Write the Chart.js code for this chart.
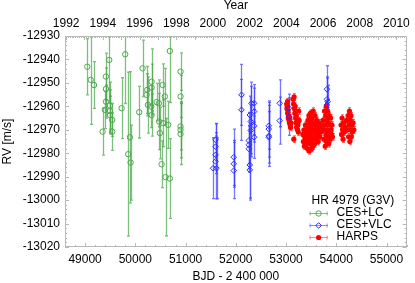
<!DOCTYPE html>
<html>
<head>
<meta charset="utf-8">
<script src="https://cdn.jsdelivr.net/npm/chart.js@4.4.0/dist/chart.umd.min.js"></script>
<style>
  html, body { margin: 0; padding: 0; background: #fff; }
</style>
</head>
<body>
<canvas id="rvChart" width="415" height="283"></canvas>
<script>
// axis ranges and tick labels
const bjdMin = 48600, bjdMax = 55400;
const bjdTicks = [49000, 50000, 51000, 52000, 53000, 54000, 55000];
const yearTicks = [1992, 1994, 1996, 1998, 2000, 2002, 2004, 2006, 2008, 2010];
const rvTicks = [-13020, -13010, -13000, -12990, -12980, -12970, -12960, -12950, -12940, -12930];

const legendTitle = 'HR 4979 (G3V)';
const seriesNames = ['CES+LC', 'CES+VLC', 'HARPS'];

// CES + Long Camera
const lcBjd = [49043, 49111, 49177, 49481, 49415, 49415, 49415, 49495, 49395, 49495,
  49495, 49540, 49349, 49540, 49727, 49799, 49892, 50077, 50144, 50236,
  50224, 50324, 50324, 50316, 50250, 50423, 50469, 50324, 50475, 50542,
  50554, 50588, 50654, 50687, 50900, 50900, 50900, 50900, 50489, 49858,
  49906, 50522, 50602, 50687, 50900];
const lcRv = [-12943.1, -12948.7, -12950.9, -12940.2, -12947.3, -12952.6, -12958.0, -12959.7, -12961.5, -12962.0,
  -12963.7, -12965.8, -12970.8, -12970.8, -12960.8, -12937.8, -12973.2, -12962.5, -12943.8, -12953.0,
  -12955.1, -12949.5, -12952.0, -12960.1, -12959.4, -12958.2, -12958.7, -12963.7, -12966.5, -12950.9,
  -12967.2, -12955.8, -12967.9, -12936.4, -12945.2, -12955.8, -12968.6, -12970.0, -12971.4, -12980.4,
  -12984.0, -12984.7, -12990.2, -12990.8, -12971.8];
const lcErr = [12, 19, 10, 18, 10, 9, 7, 10, 8, 9,
  8, 7, 10, 8, 13, 21, 28, 11, 12, 10,
  9, 14, 10, 9, 12, 8, 10, 9, 12, 9,
  10, 12, 10, 22, 8, 9, 10, 12, 11, 35,
  16, 10, 25, 17, 13];

// CES + Very Long Camera
const vlcBjd = [51548, 51596, 51596, 51596, 51596, 51616, 51960, 51960, 51960, 52113,
  52113, 52258, 52258, 52258, 52278, 52298, 52312, 52365, 52365, 52365,
  52365, 52278, 52278, 52298, 52656, 52656, 52656, 52656, 52874, 52874,
  53060, 53060, 53814, 53814, 53830, 53814];
const vlcRv = [-12986.4, -12974.3, -12977.2, -12980.7, -12983.5, -12986.4, -12981.7, -12984.5, -12987.4, -12955.1,
  -12961.5, -12974.6, -12976.4, -12978.1, -12963.7, -12966.5, -12958.7, -12958.7, -12962.2, -12968.3,
  -12973.2, -12985.0, -12987.1, -12970.3, -12968.3, -12969.7, -12972.6, -12973.2, -12958.7, -12966.1,
  -12960.8, -12964.4, -12952.7, -12957.0, -12958.0, -12959.4];
const vlcErr = [13, 7, 6, 8, 16, 13, 12, 10, 12, 13,
  13, 12, 8, 10, 8, 15, 9, 8, 10, 7,
  9, 15, 12, 10, 10, 12, 13, 11, 10, 10,
  6, 8, 10, 9, 7, 12];

// HARPS
const harpsBjd = [
  53012, 53018, 53025, 53028, 53032, 53040, 53045, 53052, 53060, 53068, 53075, 53082, 53090, 53098,
  53140, 53150, 53155, 53160, 53168, 53175, 53182, 53190, 53198, 53205, 53212, 53220, 53228, 53236, 53245, 53252, 53260,
  53335, 53345, 53355, 53365, 53375, 53385, 53395, 53405, 53415, 53425, 53435, 53440, 53445, 53450, 53455, 53460, 53465,
  53470, 53475, 53480, 53485, 53490, 53495, 53500, 53505, 53510, 53515, 53520, 53525, 53530, 53535, 53540, 53548, 53555,
  53562, 53570, 53578, 53585, 53592, 53600, 53610, 53620, 53630, 53640, 53650, 53660, 53672, 53685, 53698, 53710,
  53735, 53745, 53755, 53765, 53772, 53780, 53788, 53795, 53802, 53808, 53815, 53822, 53828, 53835, 53842, 53850,
  53858, 53865, 53872, 53880, 53888, 53895, 53905, 53915, 53925,
  54095, 54105, 54115, 54125, 54135, 54145, 54160, 54175, 54205, 54220, 54235, 54245, 54255, 54262, 54270, 54278,
  54285, 54292, 54300, 54310, 54320, 54335, 54350];
const harpsRv = [
  -12959, -12961, -12960, -12958, -12963, -12962, -12965, -12964, -12966, -12967, -12965, -12968, -12969, -12967,
  -12957, -12959, -12974, -12956, -12961, -12963, -12960, -12965, -12967, -12964, -12969, -12966, -12970, -12968, -12971, -12962, -12966,
  -12972, -12975, -12970, -12977, -12973, -12968, -12976, -12971, -12974, -12978, -12966, -12969, -12972, -12975, -12964, -12979, -12967,
  -12970, -12973, -12976, -12963, -12966, -12969, -12972, -12975, -12978, -12965, -12968, -12971, -12974, -12977, -12962, -12967, -12970,
  -12973, -12976, -12964, -12968, -12971, -12974, -12966, -12969, -12972, -12975, -12967, -12970, -12973, -12968, -12971, -12969,
  -12966, -12970, -12974, -12962, -12968, -12977, -12964, -12972, -12960, -12975, -12966, -12970, -12962, -12973, -12967, -12976,
  -12964, -12971, -12968, -12974, -12965, -12970, -12972, -12968, -12973,
  -12968, -12972, -12965, -12970, -12974, -12967, -12971, -12969, -12966, -12970, -12964, -12973, -12968, -12962, -12975, -12966,
  -12970, -12964, -12973, -12968, -12971, -12967, -12970];
const harpsErr = 1.4; // typical HARPS uncertainty, same for every point

function yearOf(bjd) {
  return 2000 + (bjd - 51544.5) / 365.25;
}

function toPoints(xs, ys) {
  return xs.map((x, i) => ({ x: x, y: ys[i] }));
}

function steps(from, to, step) {
  const out = [];
  for (let v = Math.ceil(from / step - 1e-9) * step; v <= to + 1e-9; v += step) out.push(v);
  return out;
}

const FONT = '"Liberation Sans", Arial, Helvetica, sans-serif';
Chart.defaults.font.family = FONT;
Chart.defaults.font.size = 12;
Chart.defaults.color = '#000';

const green = 'rgb(76,168,76)';
const blue = 'rgb(40,40,255)';
const red = 'rgb(255,0,0)';

// error bars go under the markers
const errorBars = {
  id: 'errorBars',
  beforeDatasetsDraw(chart) {
    const { ctx, chartArea: a, scales: { x, y } } = chart;
    ctx.save();
    ctx.beginPath();
    ctx.rect(a.left, a.top, a.right - a.left, a.bottom - a.top);
    ctx.clip();
    for (let di = chart.data.datasets.length - 1; di >= 0; di--) {
      const ds = chart.data.datasets[di];
      ctx.strokeStyle = ds.errColor;
      ctx.lineWidth = ds.errWidth;
      ds.data.forEach((p, i) => {
        const e = Array.isArray(ds.errors) ? ds.errors[i] : ds.errors;
        const px = Math.round(x.getPixelForValue(p.x)) + 0.5;
        const top = y.getPixelForValue(p.y + e);
        const bot = y.getPixelForValue(p.y - e);
        ctx.beginPath();
        ctx.moveTo(px, top); ctx.lineTo(px, bot);
        ctx.moveTo(px - 1.5, top); ctx.lineTo(px + 1.5, top);
        ctx.moveTo(px - 1.5, bot); ctx.lineTo(px + 1.5, bot);
        ctx.stroke();
      });
    }
    ctx.restore();
  }
};

// grey frame with inward ticks on all four sides
const frame = {
  id: 'frame',
  afterDraw(chart) {
    const { ctx, chartArea: a, scales } = chart;
    const x = scales.x, x2 = scales.x2, y = scales.y;
    ctx.save();
    ctx.strokeStyle = '#b8b8b8';
    ctx.lineWidth = 1;
    ctx.beginPath();
    steps(bjdMin, bjdMax, 200).forEach(v => {
      const p = Math.round(x.getPixelForValue(v)) + 0.5;
      const len = v % 1000 === 0 ? 4 : 2;
      ctx.moveTo(p, a.bottom); ctx.lineTo(p, a.bottom - len);
    });
    steps(x2.min, x2.max, 0.1).forEach(v => {
      const p = Math.round(x2.getPixelForValue(v)) + 0.5;
      const len = Math.abs(v - Math.round(v)) < 1e-6 ? 4 : 2;
      ctx.moveTo(p, a.top); ctx.lineTo(p, a.top + len);
    });
    steps(y.min, y.max, 2).forEach(v => {
      const p = Math.round(y.getPixelForValue(v)) + 0.5;
      const len = v % 10 === 0 ? 4 : 2;
      ctx.moveTo(a.left, p); ctx.lineTo(a.left + len, p);
      ctx.moveTo(a.right, p); ctx.lineTo(a.right - len, p);
    });
    ctx.stroke();
    ctx.strokeRect(Math.round(a.left) + 0.5, Math.round(a.top) + 0.5,
      Math.round(a.right - a.left) - 1, Math.round(a.bottom - a.top) - 1);
    ctx.restore();
  }
};

// legend in the lower right corner: title and error bar samples
const rvLegend = {
  id: 'rvLegend',
  afterDraw(chart) {
    const { ctx, chartArea: a } = chart;
    const x0 = a.right - 97, x1 = a.right - 79, tx = a.right - 70;
    const rows = [a.bottom - 34, a.bottom - 22, a.bottom - 10];
    ctx.save();
    ctx.font = '12px ' + FONT;
    ctx.fillStyle = '#000';
    ctx.textBaseline = 'middle';
    ctx.textAlign = 'left';
    ctx.fillText(legendTitle, a.right - 95, a.bottom - 46);
    chart.data.datasets.forEach((ds, i) => {
      const yy = rows[i] + 0.5;
      const cx = (x0 + x1) / 2;
      ctx.strokeStyle = ds.legendLine;
      ctx.lineWidth = 1;
      ctx.beginPath();
      ctx.moveTo(x0, yy); ctx.lineTo(x1, yy);
      ctx.moveTo(x0 + 0.5, yy - 2); ctx.lineTo(x0 + 0.5, yy + 2);
      ctx.moveTo(x1 - 0.5, yy - 2); ctx.lineTo(x1 - 0.5, yy + 2);
      ctx.stroke();
      ctx.fillStyle = ds.pointBackgroundColor;
      ctx.strokeStyle = ds.pointBorderColor;
      ctx.beginPath();
      if (ds.pointStyle === 'rectRot') {
        const r = ds.pointRadius;
        ctx.moveTo(cx, yy - r); ctx.lineTo(cx + r, yy); ctx.lineTo(cx, yy + r); ctx.lineTo(cx - r, yy); ctx.closePath();
      } else {
        ctx.arc(cx, yy, ds.pointRadius, 0, Math.PI * 2);
      }
      ctx.fill();
      if (ds.pointBorderWidth > 0) {
        ctx.lineWidth = ds.pointBorderWidth;
        ctx.stroke();
      }
      ctx.fillStyle = '#000';
      ctx.fillText(seriesNames[i], tx, rows[i]);
    });
    ctx.restore();
  }
};

const ctx = document.getElementById('rvChart').getContext('2d');
const rvChart = new Chart(ctx, {
  type: 'scatter',
  data: {
    datasets: [
      {
        label: seriesNames[0],
        data: toPoints(lcBjd, lcRv),
        errors: lcErr,
        errColor: 'rgba(70,165,70,0.7)',
        errWidth: 1.3,
        legendLine: 'rgba(70,165,70,0.7)',
        pointStyle: 'circle',
        pointRadius: 2.7,
        pointBorderWidth: 1,
        pointBorderColor: green,
        pointBackgroundColor: 'rgba(0,0,0,0)'
      },
      {
        label: seriesNames[1],
        data: toPoints(vlcBjd, vlcRv),
        errors: vlcErr,
        errColor: 'rgba(60,60,255,0.7)',
        errWidth: 1.3,
        legendLine: 'rgba(60,60,255,0.6)',
        pointStyle: 'rectRot',
        pointRadius: 2.8,
        pointBorderWidth: 1,
        pointBorderColor: blue,
        pointBackgroundColor: 'rgba(0,0,0,0)'
      },
      {
        label: seriesNames[2],
        data: toPoints(harpsBjd, harpsRv),
        errors: harpsErr,
        errColor: 'rgba(255,0,0,0.6)',
        errWidth: 1,
        legendLine: 'rgba(255,80,80,0.7)',
        pointStyle: 'circle',
        pointRadius: 2.6,
        pointBorderWidth: 0,
        pointBorderColor: red,
        pointBackgroundColor: red
      }
    ]
  },
  options: {
    responsive: false,
    animation: false,
    devicePixelRatio: 1,
    layout: { padding: { left: 0, right: 8, top: 0, bottom: 0 } },
    plugins: { legend: { display: false }, tooltip: { enabled: false } },
    scales: {
      x: {
        type: 'linear', position: 'bottom', min: bjdMin, max: bjdMax,
        afterBuildTicks: s => { s.ticks = bjdTicks.map(v => ({ value: v })); },
        afterFit: s => { s.height = 36; },
        grid: { display: false, drawTicks: false },
        border: { display: false },
        ticks: { padding: 5, autoSkip: false, maxRotation: 0, callback: v => String(v) },
        title: { display: true, text: 'BJD - 2 400 000', padding: 0, font: { size: 12, lineHeight: 1 } }
      },
      x2: {
        type: 'linear', position: 'top', min: yearOf(bjdMin), max: yearOf(bjdMax),
        afterBuildTicks: s => { s.ticks = yearTicks.map(v => ({ value: v })); },
        afterFit: s => { s.height = 36; },
        grid: { display: false, drawTicks: false },
        border: { display: false },
        ticks: { padding: 5, autoSkip: false, maxRotation: 0, callback: v => String(v) },
        title: { display: true, text: 'Year', padding: 0, font: { size: 12, lineHeight: 1 } }
      },
      y: {
        type: 'linear', position: 'left', min: rvTicks[0], max: rvTicks[rvTicks.length - 1],
        afterBuildTicks: s => { s.ticks = rvTicks.map(v => ({ value: v })); },
        afterFit: s => { s.width = 65; },
        grid: { display: false, drawTicks: false },
        border: { display: false },
        ticks: { padding: 5, autoSkip: false, callback: v => String(v) },
        title: { display: true, text: 'RV [m/s]', padding: { top: 2, bottom: 0 }, font: { size: 12, lineHeight: 1 } }
      }
    }
  },
  plugins: [errorBars, frame, rvLegend]
});
</script>
</body>
</html>
